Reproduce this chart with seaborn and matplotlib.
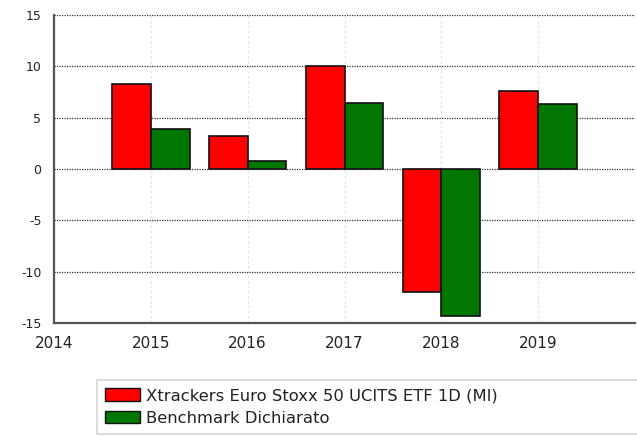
import numpy as np
import pandas as pd
import matplotlib
matplotlib.use("Agg")
import matplotlib.pyplot as plt
import seaborn as sns

years = [2015, 2016, 2017, 2018, 2019]
fund = [8.25, 3.2, 10.0, -12.0, 7.6]
benchmark = [3.85, 0.78, 6.4, -14.3, 6.3]
series_names = ["Xtrackers Euro Stoxx 50 UCITS ETF 1D (MI)", "Benchmark Dichiarato"]
colors = ["#ff0000", "#007800"]

df = pd.DataFrame({
    "year": years * 2,
    "value": fund + benchmark,
    "series": [series_names[0]] * len(years) + [series_names[1]] * len(years),
})

sns.set_style("white")
plt.rcParams["font.family"] = ["DejaVu Sans"]

fig = plt.figure(figsize=(6.37, 4.36), dpi=100)
ax = fig.add_axes([54 / 637, 1 - 323 / 436, 581 / 637, 308 / 436])

sns.barplot(data=df, x="year", y="value", hue="series", native_scale=True,
            palette=colors, width=0.8, edgecolor="#111111", linewidth=1.2,
            saturation=1, ax=ax, legend=True, zorder=3)

ax.set_xlim(2014, 2020)
ax.set_ylim(-15, 15)
ax.set_xticks([2014, 2015, 2016, 2017, 2018, 2019])
ax.set_xticklabels(["2014", "2015", "2016", "2017", "2018", "2019"], fontsize=11, color="#222222")
ax.set_yticks([-15, -10, -5, 0, 5, 10, 15])
ax.set_yticklabels(["-15", "-10", "-5", "0", "5", "10", "15"], fontsize=9, color="#222222")
ax.set_xlabel("")
ax.set_ylabel("")

ax.grid(False)
for v in [-10, -5, 0, 5, 10, 15]:
    ax.axhline(v, color="#333333", linestyle=(0, (1, 1)), linewidth=0.9, zorder=1)
for yr in [2015, 2016, 2017, 2018, 2019]:
    ax.axvline(yr, color="#d6e6f7", linestyle=(0, (2, 2)), linewidth=0.9, zorder=0)

for s in ["top", "right"]:
    ax.spines[s].set_visible(False)
for s in ["left", "bottom"]:
    ax.spines[s].set_color("#555555")
    ax.spines[s].set_linewidth(1.6)
ax.tick_params(axis="both", which="major", length=6, width=1.5, color="#d6e6f7", pad=3)

ax.get_legend().remove()
handles = [plt.Rectangle((0, 0), 1, 1, facecolor=c, edgecolor="#111111", linewidth=1) for c in colors]
leg = fig.legend(handles, series_names, loc="upper left", mode="expand",
                 bbox_to_anchor=(97 / 637, 0, 560 / 637, 1 - 380 / 436), fontsize=11.8,
                 frameon=True, fancybox=False, edgecolor="#cccccc",
                 handlelength=2.1, handleheight=0.8, handletextpad=0.4,
                 labelspacing=0.45, borderpad=0.5, borderaxespad=0)
leg.get_frame().set_linewidth(1.2)
for t in leg.get_texts():
    t.set_color("#222222")

fig.savefig("out.png", dpi=100)
